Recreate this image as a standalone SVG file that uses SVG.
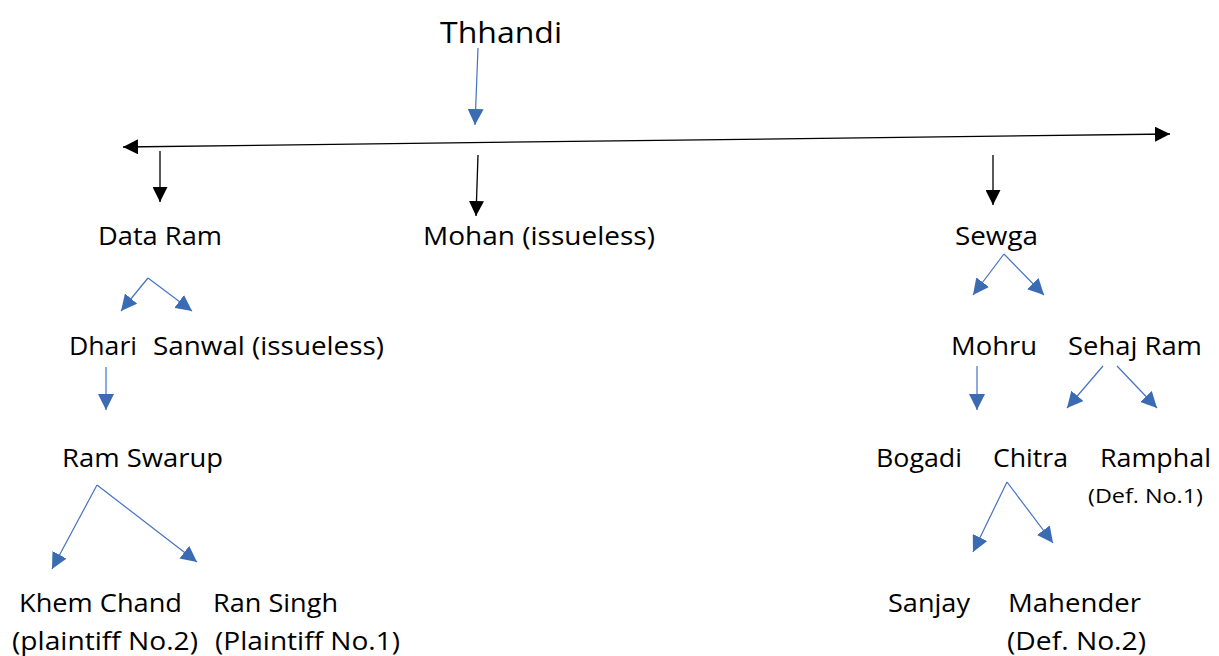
<svg xmlns="http://www.w3.org/2000/svg" width="1219" height="656" viewBox="0 0 1219 656">
<style>
text{font-family:"Open Sans","Liberation Sans",sans-serif;font-size:26px;fill:#000}
.big{font-size:29px}
.sm{font-size:20px}
.bl{stroke:#4472C4;stroke-width:1.2;fill:none;marker-end:url(#hb)}
.bk{stroke:#000;stroke-width:1.3;fill:none;marker-end:url(#hk)}
</style>
<defs>
<marker id="hb" markerUnits="userSpaceOnUse" markerWidth="16" markerHeight="16" viewBox="0 0 16 16" refX="16" refY="8" orient="auto"><path d="M0,0 L16,8 L0,16 z" fill="#3B6BB3"/></marker>
<marker id="hk" markerUnits="userSpaceOnUse" markerWidth="15" markerHeight="15" viewBox="0 0 15 15" refX="15" refY="7.5" orient="auto"><path d="M0,0 L15,7.5 L0,15 z" fill="#000"/></marker>
<marker id="hks" markerUnits="userSpaceOnUse" markerWidth="15" markerHeight="15" viewBox="0 0 15 15" refX="0" refY="7.5" orient="auto"><path d="M15,0 L0,7.5 L15,15 z" fill="#000"/></marker>
</defs>
<g id="connectors">
<line x1="478" y1="48" x2="475" y2="125" class="bl"/>
<line x1="123" y1="147" x2="1170" y2="134" stroke="#000" stroke-width="1.3" marker-start="url(#hks)" marker-end="url(#hk)"/>
<line x1="160" y1="151" x2="160" y2="202" class="bk"/>
<line x1="478" y1="155" x2="476" y2="216" class="bk"/>
<line x1="993" y1="155" x2="993" y2="205" class="bk"/>
<polyline points="148,278 121,311" class="bl"/>
<polyline points="148,278 192,311" class="bl"/>
<line x1="106" y1="367" x2="106" y2="410" class="bl"/>
<line x1="97" y1="485" x2="52" y2="569" class="bl"/>
<line x1="97" y1="485" x2="197" y2="562" class="bl"/>
<line x1="1004" y1="254" x2="973" y2="295" class="bl"/>
<line x1="1004" y1="254" x2="1044" y2="295" class="bl"/>
<line x1="977" y1="366" x2="977" y2="410" class="bl"/>
<line x1="1103" y1="366" x2="1067" y2="408" class="bl"/>
<line x1="1117" y1="366" x2="1157" y2="408" class="bl"/>
<line x1="1007" y1="482" x2="973" y2="552" class="bl"/>
<line x1="1007" y1="482" x2="1053" y2="543" class="bl"/>
</g>
<g id="thhandi"><text x="440" y="43" class="big" textLength="122" lengthAdjust="spacingAndGlyphs">Thhandi</text></g>
<g id="dataram"><text x="98" y="245" textLength="124" lengthAdjust="spacingAndGlyphs">Data Ram</text></g>
<g id="mohan"><text x="423" y="245" textLength="232" lengthAdjust="spacingAndGlyphs">Mohan (issueless)</text></g>
<g id="sewga"><text x="955" y="245" textLength="83" lengthAdjust="spacingAndGlyphs">Sewga</text></g>
<g id="dhari"><text x="69" y="355" textLength="68" lengthAdjust="spacingAndGlyphs">Dhari</text></g>
<g id="sanwal"><text x="153" y="355" textLength="231" lengthAdjust="spacingAndGlyphs">Sanwal (issueless)</text></g>
<g id="ramswarup"><text x="62" y="467" textLength="161" lengthAdjust="spacingAndGlyphs">Ram Swarup</text></g>
<g id="khemchand"><text x="19" y="612" textLength="163" lengthAdjust="spacingAndGlyphs">Khem Chand</text><text x="12" y="650" textLength="186" lengthAdjust="spacingAndGlyphs">(plaintiff No.2)</text></g>
<g id="ransingh"><text x="213" y="612" textLength="125" lengthAdjust="spacingAndGlyphs">Ran Singh</text><text x="215" y="650" textLength="185" lengthAdjust="spacingAndGlyphs">(Plaintiff No.1)</text></g>
<g id="mohru"><text x="951" y="355" textLength="86" lengthAdjust="spacingAndGlyphs">Mohru</text></g>
<g id="sehajram"><text x="1068" y="355" textLength="134" lengthAdjust="spacingAndGlyphs">Sehaj Ram</text></g>
<g id="bogadi"><text x="876" y="467" textLength="86" lengthAdjust="spacingAndGlyphs">Bogadi</text></g>
<g id="chitra"><text x="993" y="467" textLength="75" lengthAdjust="spacingAndGlyphs">Chitra</text></g>
<g id="ramphal"><text x="1100" y="467" textLength="111" lengthAdjust="spacingAndGlyphs">Ramphal</text><text x="1088" y="503" class="sm" textLength="115" lengthAdjust="spacingAndGlyphs">(Def. No.1)</text></g>
<g id="sanjay"><text x="888" y="612" textLength="82" lengthAdjust="spacingAndGlyphs">Sanjay</text></g>
<g id="mahender"><text x="1008" y="612" textLength="133" lengthAdjust="spacingAndGlyphs">Mahender</text><text x="1007" y="650" textLength="139" lengthAdjust="spacingAndGlyphs">(Def. No.2)</text></g>
</svg>
